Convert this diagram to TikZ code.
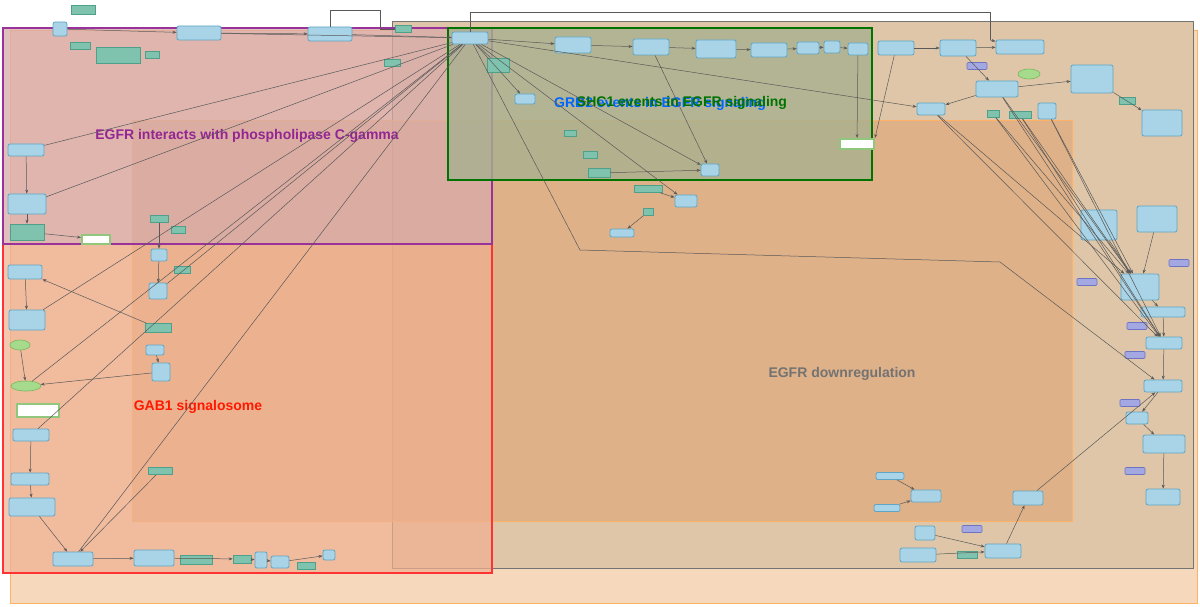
\documentclass[tikz,border=0pt]{standalone}
\usepackage{fontspec}
\setmainfont{Liberation Sans}
\usetikzlibrary{shapes.geometric,arrows.meta}
\definecolor{nb}{HTML}{A9D3E6}\definecolor{nbd}{HTML}{5FA6C6}
\definecolor{nt}{HTML}{7FC3AE}\definecolor{ntd}{HTML}{4FA08A}
\definecolor{np}{HTML}{A3A8E2}\definecolor{npd}{HTML}{6F74C0}
\definecolor{ng}{HTML}{A6DB8E}\definecolor{ngd}{HTML}{76B85C}
\definecolor{outer}{HTML}{F6D8BC}\definecolor{grayf}{HTML}{DFC6A8}
\definecolor{innerf}{HTML}{E0AA7E}\definecolor{redf}{HTML}{F0B090}
\definecolor{purf}{HTML}{D8AAAA}\definecolor{grnf}{HTML}{A8B090}
\tikzset{
 B/.style={draw=nbd,fill=nb,rounded corners=2pt,line width=0.8pt,inner sep=0pt},
 T/.style={draw=ntd,fill=nt,line width=0.6pt,inner sep=0pt},
 P/.style={draw=npd,fill=np,rounded corners=1pt,line width=0.6pt,inner sep=0pt},
 G/.style={draw=ngd,fill=ng,ellipse,line width=0.6pt,inner sep=0pt},
 W/.style={draw=ngd!80,fill=white,line width=2pt,inner sep=0pt},
 e/.style={draw=black!65,line width=0.5pt,-{Stealth[length=4pt,width=3pt]}},
 l/.style={draw=black!65,line width=0.5pt},
 lab/.style={font=\bfseries\fontsize{14}{14}\selectfont}
}
\newcommand{\nd}[6]{\node[#1,minimum width=#4pt,minimum height=#5pt] (#6) at (#2,#3) {};}
\begin{document}
\begin{tikzpicture}[x=1pt,y=-1pt]
\useasboundingbox (0,0) rectangle (1200,607);
\fill[white] (0,0) rectangle (1200,607);
% regions
\draw[draw=orange!60,fill=outer,line width=0.8pt] (10,30) rectangle (1197,603);
\draw[draw=black!55,fill=grayf,line width=1pt] (392,22) rectangle (1193,568);
\draw[draw=orange!60,fill=innerf,fill opacity=0.75,line width=0.8pt] (132,120) rectangle (1072,521);
\draw[draw=red!80,fill=redf,fill opacity=0.7,line width=1.2pt] (3,244) rectangle (492,573);
\draw[draw=violet!80,fill=purf,fill opacity=0.75,line width=1.2pt] (3,28) rectangle (492,244);
\draw[draw=green!45!black,fill=grnf,fill opacity=0.8,line width=1.2pt] (448,28) rectangle (872,180);
\node[lab,text=violet!85] at (247,136) {EGFR interacts with phospholipase C-gamma};
\node[lab,text=red!80!orange] at (198,407) {GAB1 signalosome};
\node[lab,text=black!55] at (842,374) {EGFR downregulation};
\node[lab,text=blue!60!cyan] at (660,104) {GRB2 events in EGFR signaling};
\node[lab,text=green!45!black] at (682,103) {SHC1 events in EGFR signaling};
% nodes
\nd{B}{60}{29}{14}{14}{a1}\nd{T}{83}{10}{24}{9}{a2}\nd{T}{80}{46}{20}{7}{a3}
\nd{T}{118}{55}{44}{16}{a4}\nd{T}{152}{55}{14}{7}{a7}\nd{B}{199}{33}{44}{14}{a5}
\nd{B}{330}{34}{44}{14}{a6}\nd{T}{403}{29}{16}{7}{a8}\nd{T}{392}{63}{16}{7}{a9}
\nd{B}{470}{38}{36}{12}{hub}\nd{T}{498}{65}{22}{14}{h1}\nd{B}{525}{99}{20}{10}{h2}
\nd{B}{573}{45}{36}{16}{s1}\nd{B}{651}{47}{36}{16}{s2}\nd{B}{716}{49}{40}{18}{s3}
\nd{B}{769}{50}{36}{14}{s4}\nd{B}{808}{48}{22}{12}{s5}\nd{B}{832}{47}{16}{12}{s6}
\nd{B}{858}{49}{20}{12}{s7}\nd{W}{857}{144}{34}{10}{w1}
\nd{T}{570}{133}{12}{6}{k4}\nd{T}{590}{155}{14}{7}{k5}\nd{T}{599}{173}{22}{9}{k6}
\nd{B}{710}{170}{18}{12}{k1}\nd{T}{648}{189}{28}{7}{k7}\nd{T}{648}{212}{10}{7}{k8}
\nd{B}{686}{201}{22}{12}{k2}\nd{B}{622}{233}{24}{8}{k3}
\nd{B}{896}{48}{36}{14}{d1}\nd{B}{958}{48}{36}{16}{d2}\nd{B}{1020}{47}{48}{14}{d3}
\nd{P}{977}{66}{20}{7}{d4}\nd{G}{1029}{74}{22}{10}{d5}\nd{B}{997}{89}{42}{16}{d6}
\nd{B}{931}{109}{28}{12}{d7}\nd{T}{993}{114}{12}{7}{d8}\nd{T}{1020}{115}{22}{7}{d9}
\nd{B}{1047}{111}{18}{16}{d10}\nd{B}{1092}{79}{42}{28}{d11}\nd{T}{1127}{101}{16}{7}{d12}
\nd{B}{1162}{123}{40}{26}{d13}
\nd{B}{26}{150}{36}{12}{l1}\nd{B}{27}{204}{38}{20}{l2}\nd{T}{27}{232}{34}{16}{l3}
\nd{W}{96}{239}{28}{9}{w2}\nd{T}{159}{219}{18}{7}{c5}\nd{T}{178}{230}{14}{7}{c6}
\nd{B}{159}{255}{16}{12}{c1}\nd{T}{182}{270}{16}{7}{c7}\nd{B}{158}{291}{18}{16}{c2}
\nd{B}{25}{272}{34}{14}{l4}\nd{B}{27}{320}{36}{20}{l5}\nd{T}{158}{328}{26}{9}{c3}
\nd{B}{155}{350}{18}{10}{c8}\nd{G}{20}{345}{20}{10}{g1}\nd{B}{161}{372}{18}{18}{c4}
\nd{G}{26}{386}{30}{10}{g2}\nd{W}{38}{410}{42}{13}{w3}\nd{B}{31}{435}{36}{12}{l6}
\nd{T}{160}{471}{24}{7}{t1}\nd{B}{30}{479}{38}{12}{l7}\nd{B}{32}{507}{46}{18}{l8}
\nd{B}{73}{559}{40}{14}{m1}\nd{B}{154}{558}{40}{16}{m2}\nd{T}{196}{560}{32}{9}{m3}
\nd{T}{242}{559}{18}{8}{m4}\nd{B}{261}{560}{12}{16}{m5}\nd{B}{280}{562}{18}{12}{m6}
\nd{T}{306}{566}{18}{7}{m7}\nd{B}{329}{555}{12}{10}{m8}
\nd{B}{1099}{225}{36}{30}{r1}\nd{B}{1157}{219}{40}{26}{r9}\nd{P}{1087}{282}{20}{7}{p1}
\nd{B}{1140}{287}{38}{26}{r2}\nd{P}{1179}{263}{20}{7}{p2}\nd{B}{1163}{312}{44}{10}{r3}
\nd{P}{1137}{326}{20}{7}{p3}\nd{B}{1164}{343}{36}{12}{r4}\nd{P}{1135}{355}{20}{7}{p4}
\nd{B}{1163}{386}{38}{12}{r5}\nd{P}{1130}{403}{20}{7}{p5}\nd{B}{1137}{418}{22}{12}{r6}
\nd{B}{1164}{444}{42}{18}{r7}\nd{P}{1135}{471}{20}{7}{p6}\nd{B}{1163}{497}{34}{16}{r8}
\nd{B}{890}{476}{28}{7}{q1}\nd{B}{926}{496}{30}{12}{q2}\nd{B}{887}{508}{26}{7}{q3}
\nd{B}{1028}{498}{30}{14}{q4}\nd{B}{925}{533}{20}{14}{q5}\nd{P}{972}{529}{20}{7}{q6}
\nd{B}{918}{555}{36}{14}{q7}\nd{T}{967}{555}{20}{7}{q8}\nd{B}{1003}{551}{36}{14}{q9}
% connectors
\draw[e] (a1) -- (a5); \draw[e] (a5) -- (a6); \draw[e] (a6) -- (hub);
\draw[l] (a6.north) |- (380,10) |- (a8);
\draw[l] (hub.north) -- (470,12) -- (990,12) -- (990,40); \draw[e] (990,40) -- (d3);
\draw[e] (hub) -- (s1); \draw[e] (s1) -- (s2); \draw[e] (s2) -- (s3); \draw[e] (s3) -- (s4);
\draw[e] (s4) -- (s5); \draw[e] (s5) -- (s6); \draw[e] (s6) -- (s7); \draw[e] (s7) -- (w1);
\draw[e] (d1) -- (d2); \draw[e] (d2) -- (d3); \draw[e] (d2) -- (d6); \draw[e] (d6) -- (d11);
\draw[e] (d11) -- (d13); \draw[e] (d6) -- (d7); \draw[e] (d1) -- (w1.north east);
\draw[e] (hub) -- (h2); \draw[e] (hub) -- (k1); \draw[e] (hub) -- (k2); \draw[e] (k6) -- (k1);
\draw[e] (k7) -- (k2); \draw[e] (k8) -- (k3); \draw[e] (s2) -- (k1);
\draw[l] (hub) -- (580,250) -- (1000,262); \draw[e] (1000,262) -- (r5);
\draw[e] (hub) -- (d7);
\foreach \s in {d6,d8,d9,d10,d7} { \draw[e] (\s) -- (r2); \draw[e] (\s) -- (r4); }
\draw[e] (r1) -- (r2); \draw[e] (r9) -- (r2); \draw[e] (r2) -- (r3); \draw[e] (r3) -- (r4);
\draw[e] (r4) -- (r5); \draw[e] (r5) -- (r6); \draw[e] (r6) -- (r7); \draw[e] (r7) -- (r8);
\draw[e] (q4) -- (r5); \draw[e] (q1) -- (q2); \draw[e] (q3) -- (q2); \draw[e] (q5) -- (q9);
\draw[e] (q7) -- (q9); \draw[e] (q9) -- (q4);
\draw[e] (l1) -- (l2); \draw[e] (l2) -- (l3); \draw[e] (l3) -- (w2); \draw[e] (l4) -- (l5);
\draw[e] (g1) -- (g2); \draw[e] (c4) -- (g2); \draw[e] (c8) -- (c4);
\draw[e] (l6) -- (l7); \draw[e] (l7) -- (l8); \draw[e] (l8) -- (m1); \draw[e] (t1) -- (m1);
\draw[e] (m1) -- (m2); \draw[e] (m2) -- (m4); \draw[e] (m4) -- (m5); \draw[e] (m5) -- (m6); \draw[e] (m6) -- (m8);
\draw[e] (c5) -- (c1); \draw[e] (c1) -- (c2); \draw[e] (c3) -- (l4);
\foreach \s in {l1,l2,l5,c2,g2,l6,m1} \draw[l] (\s) -- (hub);
\draw[l] (a5) -- (hub); \draw[l] (h1) -- (hub);
\end{tikzpicture}
\end{document}
